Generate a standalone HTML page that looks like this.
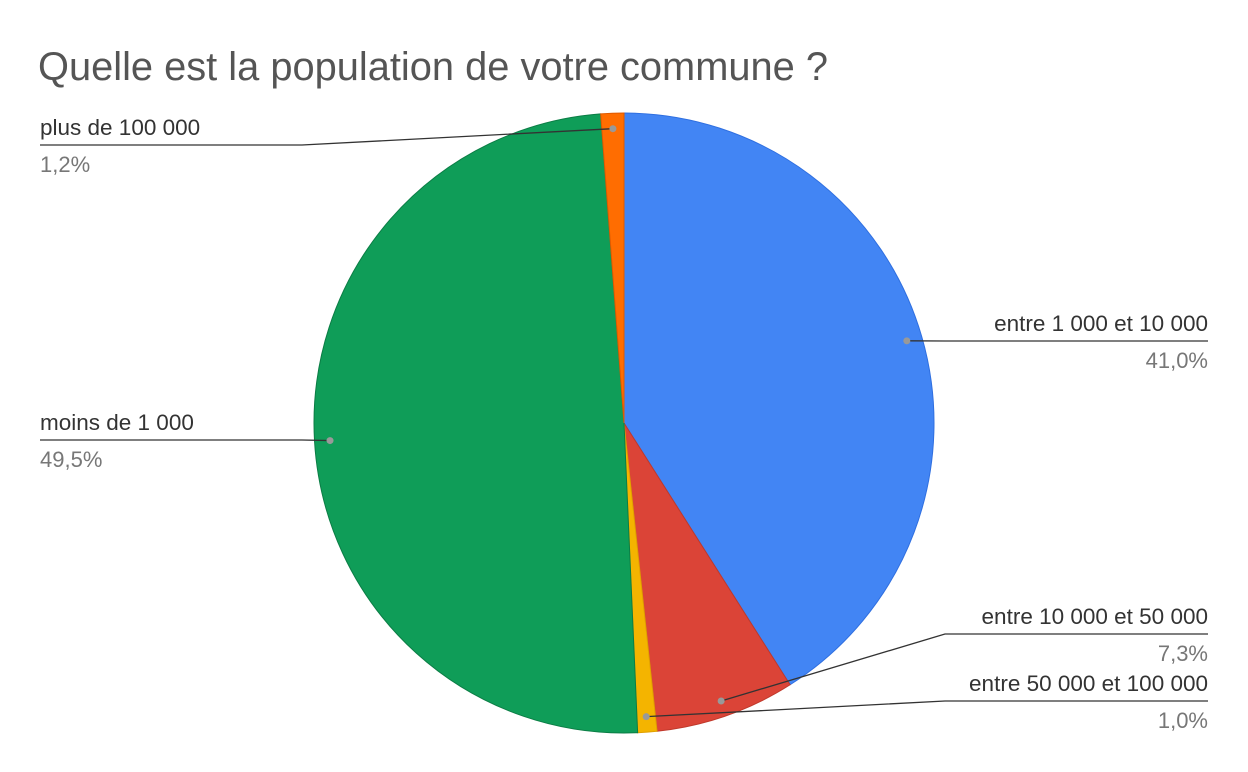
<!DOCTYPE html>
<html><head><meta charset="utf-8">
<style>
html,body{margin:0;padding:0;background:#fff;}
svg{display:block;font-family:"Liberation Sans",Roboto,sans-serif;}
</style></head>
<body>
<svg id="chart" width="1248" height="772" viewBox="0 0 1248 772">
<rect width="1248" height="772" fill="#fff"/>
<text x="38" y="80" font-size="39.5" fill="#555" textLength="790" lengthAdjust="spacingAndGlyphs">Quelle est la population de votre commune ?</text>
<g id="slices"></g>
<g id="labels"></g>
</svg>
<script>
const categories = ["entre 1 000 et 10 000","entre 10 000 et 50 000","entre 50 000 et 100 000","moins de 1 000","plus de 100 000"];
const values = [41.0, 7.3, 1.0, 49.5, 1.2];
const valueLabels = ["41,0%","7,3%","1,0%","49,5%","1,2%"];
const colors = ["#4285f4","#db4437","#f4b400","#0f9d58","#ff6d01"];
const strokes = ["#2f6fe0","#c0392b","#e0a000","#0b7d45","#e05a00"];
const cx=624, cy=423, R=310;
const NS="http://www.w3.org/2000/svg";
const total=values.reduce((a,b)=>a+b,0);
const gS=document.getElementById('slices'), gL=document.getElementById('labels');
function pt(a,r){return [cx+r*Math.sin(a), cy-r*Math.cos(a)];}
const layout=[
 {side:"r", ty:341},
 {side:"r", ty:634},
 {side:"r", ty:701},
 {side:"l", ty:440},
 {side:"l", ty:145}
];
let a0=0;
values.forEach((v,i)=>{
  const a1=a0+v/total*2*Math.PI;
  const p0=pt(a0,R), p1=pt(a1,R);
  const large=(a1-a0)>Math.PI?1:0;
  const path=document.createElementNS(NS,'path');
  path.setAttribute('d',`M${cx},${cy} L${p0[0]},${p0[1]} A${R},${R} 0 ${large} 1 ${p1[0]},${p1[1]} Z`);
  path.setAttribute('fill',colors[i]);
  path.setAttribute('stroke',strokes[i]);
  path.setAttribute('stroke-width','1');
  
  
  gS.appendChild(path);
  const mid=(a0+a1)/2;
  const d=pt(mid,R*0.95);
  const L=layout[i];
  const endX=L.side==="r"?1208:40;
  const elbowX=L.side==="r"?Math.max(d[0],945):Math.min(d[0],302);
  const line=document.createElementNS(NS,'polyline');
  line.setAttribute('points',`${d[0]},${d[1]} ${elbowX},${L.ty} ${endX},${L.ty}`);
  line.setAttribute('fill','none');line.setAttribute('stroke','#333');line.setAttribute('stroke-width','1.3');
  
  
  gL.appendChild(line);
  const c=document.createElementNS(NS,'circle');
  c.setAttribute('cx',d[0]);c.setAttribute('cy',d[1]);c.setAttribute('r','3.5');c.setAttribute('fill','#999');
  
  
  gL.appendChild(c);
  const anchor=L.side==="r"?"end":"start";
  const t1=document.createElementNS(NS,'text');
  t1.setAttribute('x',endX);t1.setAttribute('y',L.ty-10);t1.setAttribute('text-anchor',anchor);
  t1.setAttribute('font-size','22.5');t1.setAttribute('fill','#333');t1.textContent=categories[i];
  
  
  gL.appendChild(t1);
  const t2=document.createElementNS(NS,'text');
  t2.setAttribute('x',endX);t2.setAttribute('y',L.ty+27);t2.setAttribute('text-anchor',anchor);
  t2.setAttribute('font-size','22');t2.setAttribute('fill','#777');t2.textContent=valueLabels[i];
  
  
  gL.appendChild(t2);
  a0=a1;
});
</script>
</body></html>
